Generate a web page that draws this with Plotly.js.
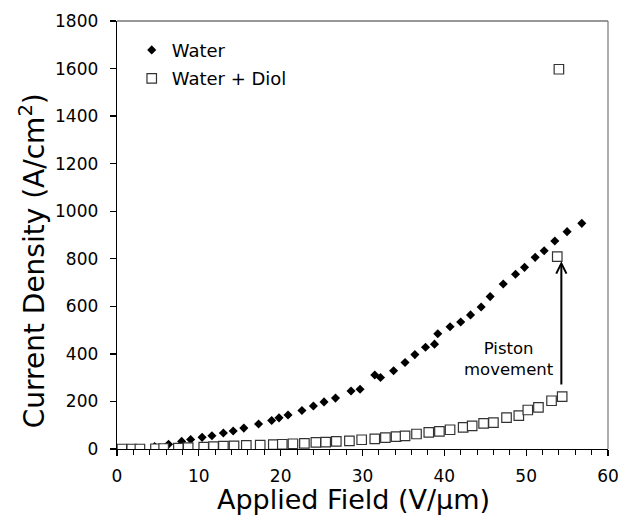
<!DOCTYPE html>
<html>
<head>
<meta charset="utf-8">
<script src="https://cdn.plot.ly/plotly-3.0.1.min.js"></script>
<style>
  html, body { margin: 0; padding: 0; background: #fff; }
  #chart { width: 623px; height: 516px; }
</style>
</head>
<body>
<div id="chart"></div>
<script>
// Water (filled diamonds)
const waterField = [4.6, 6.3, 7.9, 9.0, 10.4, 11.6, 13.0, 14.2, 15.5, 17.3, 18.9, 19.8, 20.9, 22.6, 24.0, 25.3, 26.7, 28.6, 29.7, 31.5, 32.2, 33.8, 35.2, 36.4, 37.7, 38.8, 39.2, 40.7, 42.0, 43.2, 44.5, 45.6, 47.2, 48.7, 49.8, 51.1, 52.2, 53.5, 55.0, 56.8];
const waterCurrent = [10, 20, 32, 40, 49, 56, 67, 76, 88, 105, 120, 131, 143, 162, 181, 198, 214, 244, 251, 311, 301, 329, 364, 397, 428, 441, 485, 514, 534, 564, 597, 641, 694, 735, 764, 806, 834, 875, 914, 949];

// Water + Diol (open squares)
const diolField = [0.6, 1.8, 2.8, 4.7, 5.7, 7.5, 8.7, 10.6, 11.8, 13.0, 14.3, 15.8, 17.5, 19.1, 20.2, 21.5, 22.9, 24.3, 25.5, 26.8, 28.4, 29.9, 31.5, 32.8, 34.1, 35.2, 36.6, 38.1, 39.4, 40.7, 42.3, 43.4, 44.8, 46.0, 47.6, 49.1, 50.2, 51.5, 53.1, 54.4, 53.8, 54.0];
const diolCurrent = [0, 0, 0, 1, 2, 4, 6, 8, 10, 12, 13, 15, 16, 18, 20, 22, 24, 28, 29, 32, 34, 39, 43, 48, 52, 55, 63, 70, 74, 81, 91, 97, 108, 111, 132, 140, 164, 175, 203, 220, 809, 1597];

const seriesNames = ["Water", "Water + Diol"];
const xTitle = "Applied Field (V/\u00b5m)";
const yTitle = "Current Density (A/cm<sup>2</sup>)";
const noteText = "Piston<br>movement";
const arrowFrom = [54.3, 265];
const arrowTo = [54.3, 790];
const notePos = [47.9, 378];

const FONT = "DejaVu Sans, Arial, sans-serif";

const traces = [
  {
    x: waterField, y: waterCurrent, name: seriesNames[0], legendgroup: "a",
    type: "scatter", mode: "markers",
    marker: { symbol: "diamond", size: 7, color: "#000" }
  },
  {
    x: diolField, y: diolCurrent, name: seriesNames[1], legendgroup: "b",
    type: "scatter", mode: "markers",
    marker: { symbol: "square", size: 9.5, color: "#fff", line: { color: "#333", width: 1.2 } }
  }
];

const layout = {
  width: 623, height: 516,
  margin: { l: 117, r: 15, t: 21, b: 67 },
  paper_bgcolor: "#fff", plot_bgcolor: "#fff",
  font: { family: FONT, color: "#000", size: 17 },
  showlegend: true,
  legend: {
    x: 0.03, y: 0.975, xanchor: "left", yanchor: "top",
    traceorder: "grouped", tracegroupgap: 2,
    bgcolor: "rgba(0,0,0,0)", borderwidth: 0,
    font: { family: FONT, size: 18, color: "#000" }
  },
  xaxis: {
    range: [0, 60], dtick: 10, tick0: 0,
    showgrid: false, zeroline: false,
    showline: true, linecolor: "#000", linewidth: 1.3,
    ticks: "outside", ticklen: 6, tickwidth: 1.3, tickcolor: "#000",
    minor: { dtick: 2, ticks: "outside", ticklen: 5, tickwidth: 1, tickcolor: "#000", showgrid: false },
    tickfont: { family: FONT, size: 17, color: "#000" },
    ticklabelstandoff: 5
  },
  yaxis: {
    range: [0, 1800], dtick: 200, tick0: 0,
    showgrid: false, zeroline: false,
    showline: true, linecolor: "#000", linewidth: 1.3,
    ticks: "outside", ticklen: 6, tickwidth: 1.3, tickcolor: "#000",
    tickfont: { family: FONT, size: 17, color: "#000" },
    ticklabelstandoff: 8
  },
  shapes: [
    { type: "line", xref: "paper", yref: "paper", x0: 0, x1: 1, y0: 1, y1: 1, line: { color: "#333", width: 1.2 } },
    { type: "line", xref: "paper", yref: "paper", x0: 1, x1: 1, y0: 0, y1: 1, line: { color: "#777", width: 1.2 } }
  ],
  annotations: [
    {
      x: 0.481, y: -0.119, xref: "paper", yref: "paper",
      xanchor: "center", yanchor: "middle",
      showarrow: false, text: xTitle,
      font: { family: FONT, size: 27, color: "#000" }
    },
    {
      x: -0.172, y: 0.44, xref: "paper", yref: "paper",
      xanchor: "center", yanchor: "middle", textangle: -90,
      showarrow: false, text: yTitle,
      font: { family: FONT, size: 28, color: "#000" }
    },
    {
      x: arrowTo[0], y: arrowTo[1], ax: arrowFrom[0], ay: arrowFrom[1],
      xref: "x", yref: "y", axref: "x", ayref: "y",
      showarrow: true, arrowhead: 5, arrowsize: 1, arrowwidth: 2, arrowcolor: "#000",
      text: ""
    },
    {
      x: notePos[0], y: notePos[1], xref: "x", yref: "y",
      showarrow: false, text: noteText, align: "center",
      font: { family: FONT, size: 16.5, color: "#000" }
    }
  ]
};

Plotly.newPlot("chart", traces, layout, { displayModeBar: false, staticPlot: true });
</script>
</body>
</html>
